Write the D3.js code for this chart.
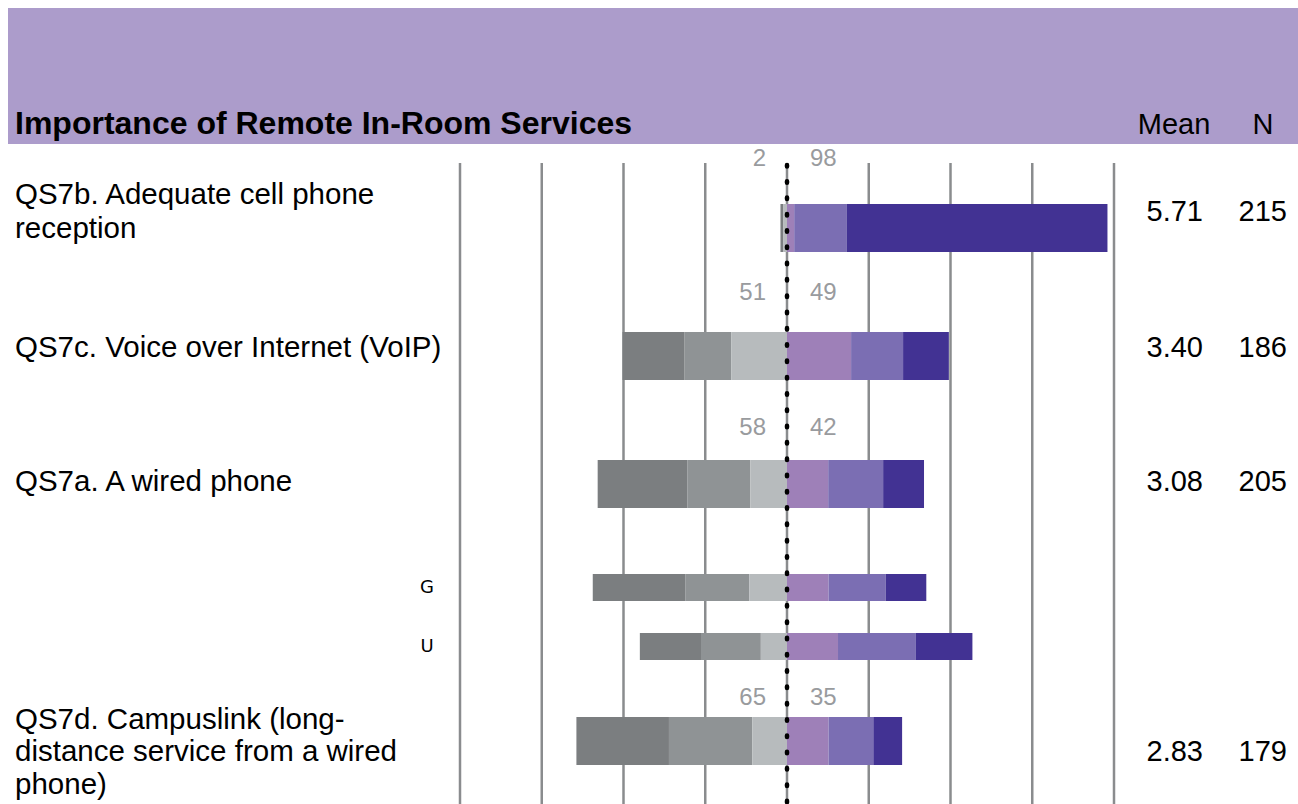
<!DOCTYPE html>
<html>
<head>
<meta charset="utf-8">
<script src="https://cdn.jsdelivr.net/npm/d3@7"></script>
<style>
  body { margin: 0; background: #fff; }
  svg { display: block; font-family: "Liberation Sans", Arial, sans-serif; }
</style>
</head>
<body>
<script>
// rows, top to bottom
var rowLines = [
  ["QS7b. Adequate cell phone", "reception"],
  ["QS7c. Voice over Internet (VoIP)"],
  ["QS7a. A wired phone"],
  [],
  [],
  ["QS7d. Campuslink (long-", "distance service from a wired", "phone)"]
];
var subLabels = ["", "", "", "G", "U", ""];

// percentages, from the far "unimportant" end to the far "important" end
var notImp3 = [0.8, 19.0, 27.5, 28.4, 18.7, 28.3];
var notImp2 = [0.0, 14.3, 19.2, 19.5, 18.3, 25.5];
var notImp1 = [1.2, 17.0, 11.2, 11.5, 8.0, 10.6];
var imp1 = [2.2, 19.6, 12.6, 12.7, 15.6, 12.7];
var imp2 = [16.0, 15.9, 16.8, 17.5, 23.7, 13.7];
var imp3 = [79.8, 14.0, 12.5, 12.4, 17.4, 8.8];

var pctBelow = [2, 51, 58, null, null, 65];
var pctAbove = [98, 49, 42, null, null, 35];
var means = ["5.71", "3.40", "3.08", null, null, "2.83"];
var counts = ["215", "186", "205", null, null, "179"];

var xTicks = [-100, -75, -50, -25, 0, 25, 50, 75, 100];

// layout
var width = 1298, height = 804;
var rowBar = [228, 356, 484, 587.5, 646.5, 741];   // bar centres
var rowBarH = [48, 48, 48, 27, 27, 48];
var rowText = [211, 347, 481, 587, 646, 751];     // label / mean centres
var rowLineH = [34, 33, 33, 33, 33, 32.5];
var rowPct = [158, 292, 427, null, null, 697];    // % labels

var colors = ["#7b7e80", "#8f9395", "#b7bbbd", "#9e80b8", "#7b6eb3", "#423293"];

var x = d3.scaleLinear().domain([-100, 100]).range([460, 1114]);

var svg = d3.select("body").append("svg")
    .attr("width", width)
    .attr("height", height);

// header band
svg.append("rect")
    .attr("x", 8).attr("y", 8)
    .attr("width", width - 8).attr("height", 136)
    .attr("fill", "#ac9ccb");

svg.append("text")
    .attr("x", 15).attr("y", 134)
    .attr("font-size", 32).attr("font-weight", "bold")
    .attr("fill", "#000")
    .text("Importance of Remote In-Room Services");

svg.append("text")
    .attr("x", 1174).attr("y", 134)
    .attr("text-anchor", "middle")
    .attr("font-size", 29)
    .text("Mean");
svg.append("text")
    .attr("x", 1263).attr("y", 134)
    .attr("text-anchor", "middle")
    .attr("font-size", 29)
    .text("N");

// grid
svg.append("g").selectAll("line")
    .data(xTicks)
    .enter().append("line")
    .attr("x1", function(d) { return x(d); })
    .attr("x2", function(d) { return x(d); })
    .attr("y1", 163).attr("y2", height)
    .attr("stroke", "#8a8c8e")
    .attr("stroke-width", 2.5);

// stacked diverging bars
var series = [notImp3, notImp2, notImp1, imp1, imp2, imp3];
rowBar.forEach(function(cy, i) {
    var vals = series.map(function(s) { return s[i]; });
    var negTotal = vals[0] + vals[1] + vals[2];
    var start = -negTotal;
    var segs = vals.map(function(v, k) {
        var s = { x0: start, x1: start + v, k: k };
        start += v;
        return s;
    });
    svg.append("g").selectAll("rect")
        .data(segs)
        .enter().append("rect")
        .attr("x", function(d) { return x(d.x0); })
        .attr("width", function(d) { return Math.max(0, x(d.x1) - x(d.x0)); })
        .attr("y", cy - rowBarH[i] / 2)
        .attr("height", rowBarH[i])
        .attr("fill", function(d) { return colors[d.k]; });
});

// dotted zero line
svg.append("line")
    .attr("x1", x(0)).attr("x2", x(0))
    .attr("y1", 165).attr("y2", height)
    .attr("stroke", "#000")
    .attr("stroke-width", 4.5)
    .attr("stroke-linecap", "round")
    .attr("stroke-dasharray", "1.5 14.8");

// row labels
rowLines.forEach(function(lines, i) {
    var lh = rowLineH[i];
    var top = rowText[i] - (lines.length - 1) * lh / 2;
    lines.forEach(function(t, j) {
        svg.append("text")
            .attr("x", 15)
            .attr("y", top + j * lh)
            .attr("dy", "0.35em")
            .attr("font-size", 29.5)
            .text(t);
    });
    if (subLabels[i]) {
        svg.append("text")
            .attr("x", 427).attr("y", rowText[i])
            .attr("dy", "0.36em")
            .attr("text-anchor", "middle")
            .attr("font-family", "DejaVu Sans, sans-serif")
            .attr("font-size", 18)
            .text(subLabels[i]);
    }
    if (means[i]) {
        svg.append("text")
            .attr("x", 1203).attr("y", rowText[i])
            .attr("dy", "0.35em")
            .attr("text-anchor", "end")
            .attr("font-size", 29)
            .text(means[i]);
        svg.append("text")
            .attr("x", 1287).attr("y", rowText[i])
            .attr("dy", "0.35em")
            .attr("text-anchor", "end")
            .attr("font-size", 29)
            .text(counts[i]);
    }
    if (pctBelow[i] != null) {
        svg.append("text")
            .attr("x", x(0) - 21).attr("y", rowPct[i])
            .attr("dy", "0.35em")
            .attr("text-anchor", "end")
            .attr("font-size", 24)
            .attr("fill", "#999b9e")
            .text(pctBelow[i]);
        svg.append("text")
            .attr("x", x(0) + 23).attr("y", rowPct[i])
            .attr("dy", "0.35em")
            .attr("font-size", 24)
            .attr("fill", "#999b9e")
            .text(pctAbove[i]);
    }
});
</script>
</body>
</html>
